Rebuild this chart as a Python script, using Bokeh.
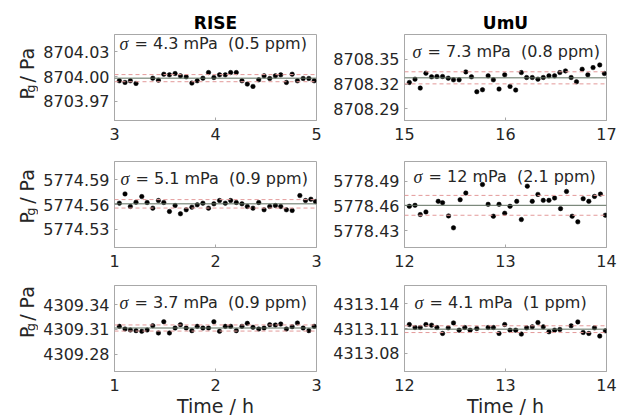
import math
from bokeh.plotting import figure
from bokeh.models import Span, Label, FixedTicker, PrintfTickFormatter, Range1d
from bokeh.layouts import column, row
from bokeh.core.properties import value
from bokeh.embed import file_html
from bokeh.resources import INLINE

# ---------------- data ----------------
rise1_t = [3.048, 3.104, 3.157, 3.213, 3.379, 3.435, 3.488, 3.544, 3.600, 3.653, 3.710, 3.766, 3.819, 3.875,
           3.931, 3.984, 4.040, 4.097, 4.150, 4.206, 4.262, 4.315, 4.371, 4.428, 4.481, 4.537, 4.593, 4.646,
           4.702, 4.759, 4.811, 4.868, 4.924, 4.977]
rise1_p = [8703.9948, 8703.9928, 8703.9948, 8703.9916, 8703.9980, 8703.9956, 8704.0028, 8704.0020, 8704.0036,
           8704.0008, 8703.9996, 8703.9920, 8703.9948, 8703.9980, 8704.0048, 8703.9988, 8704.0020, 8704.0020,
           8704.0048, 8704.0048, 8703.9948, 8703.9908, 8703.9880, 8703.9960, 8704.0008, 8703.9976, 8704.0008,
           8704.0020, 8703.9928, 8704.0028, 8703.9948, 8703.9976, 8703.9976, 8703.9948]

umu1_t = [15.048, 15.104, 15.156, 15.212, 15.268, 15.321, 15.377, 15.433, 15.485, 15.541, 15.607, 15.663,
          15.716, 15.772, 15.828, 15.880, 15.936, 15.992, 16.045, 16.101, 16.157, 16.209, 16.265, 16.321,
          16.374, 16.430, 16.486, 16.538, 16.594, 16.650, 16.703, 16.759, 16.815, 16.867, 16.933, 16.979]
umu1_p = [8708.3220, 8708.3260, 8708.3152, 8708.3332, 8708.3288, 8708.3292, 8708.3292, 8708.3272, 8708.3252,
          8708.3252, 8708.3348, 8708.3288, 8708.3108, 8708.3132, 8708.3300, 8708.3252, 8708.3140, 8708.3312,
          8708.3172, 8708.3128, 8708.3340, 8708.3280, 8708.3280, 8708.3260, 8708.3280, 8708.3300, 8708.3300,
          8708.3340, 8708.3360, 8708.3280, 8708.3228, 8708.3380, 8708.3312, 8708.3400, 8708.3432, 8708.3328]

rise2_t = [1.048, 1.104, 1.157, 1.213, 1.270, 1.323, 1.379, 1.435, 1.488, 1.544, 1.600, 1.653, 1.710, 1.766,
           1.819, 1.875, 1.931, 1.984, 2.040, 2.097, 2.150, 2.206, 2.262, 2.315, 2.371, 2.428, 2.481, 2.537,
           2.593, 2.646, 2.702, 2.759, 2.835, 2.891, 2.944, 2.990]
rise2_p = [5774.5616, 5774.5728, 5774.5576, 5774.5628, 5774.5696, 5774.5624, 5774.5556, 5774.5648, 5774.5624,
           5774.5516, 5774.5588, 5774.5488, 5774.5536, 5774.5568, 5774.5596, 5774.5616, 5774.5556, 5774.5608,
           5774.5648, 5774.5616, 5774.5648, 5774.5624, 5774.5608, 5774.5576, 5774.5556, 5774.5624, 5774.5536,
           5774.5576, 5774.5588, 5774.5576, 5774.5536, 5774.5528, 5774.5708, 5774.5648, 5774.5664, 5774.5636]

umu2_t = [12.048, 12.104, 12.156, 12.212, 12.334, 12.377, 12.436, 12.485, 12.551, 12.607, 12.772, 12.828,
          12.880, 12.936, 12.992, 13.045, 13.111, 13.157, 13.216, 13.265, 13.321, 13.374, 13.430, 13.486,
          13.545, 13.604, 13.660, 13.716, 13.769, 13.825, 13.881, 13.940, 13.989]
umu2_p = [5778.4596, 5778.4608, 5778.4496, 5778.4528, 5778.4656, 5778.4640, 5778.4480, 5778.4336, 5778.4676,
          5778.4756, 5778.4860, 5778.4620, 5778.4476, 5778.4620, 5778.4512, 5778.4596, 5778.4656, 5778.4436,
          5778.4840, 5778.4656, 5778.4740, 5778.4668, 5778.4668, 5778.4696, 5778.4568, 5778.4776, 5778.4476,
          5778.4408, 5778.4688, 5778.4656, 5778.4716, 5778.4744, 5778.4488]

rise3_t = [1.048, 1.104, 1.157, 1.213, 1.270, 1.323, 1.379, 1.435, 1.488, 1.544, 1.600, 1.653, 1.710, 1.766,
           1.819, 1.875, 1.931, 1.984, 2.040, 2.097, 2.150, 2.206, 2.262, 2.315, 2.371, 2.428, 2.481, 2.537,
           2.593, 2.646, 2.702, 2.759, 2.811, 2.868, 2.924, 2.977]
rise3_p = [4309.3136, 4309.3104, 4309.3092, 4309.3084, 4309.3076, 4309.3092, 4309.3144, 4309.3056, 4309.3192,
           4309.3056, 4309.3116, 4309.3156, 4309.3116, 4309.3084, 4309.3136, 4309.3116, 4309.3116, 4309.3192,
           4309.3076, 4309.3136, 4309.3136, 4309.3084, 4309.3136, 4309.3172, 4309.3124, 4309.3104, 4309.3116,
           4309.3156, 4309.3152, 4309.3164, 4309.3104, 4309.3132, 4309.3176, 4309.3116, 4309.3084, 4309.3136]

umu3_t = [12.048, 12.104, 12.156, 12.212, 12.268, 12.321, 12.377, 12.433, 12.485, 12.541, 12.597, 12.650,
          12.716, 12.828, 12.880, 12.936, 12.992, 13.045, 13.101, 13.157, 13.209, 13.265, 13.321, 13.374,
          13.430, 13.486, 13.538, 13.650, 13.716, 13.769, 13.825, 13.881, 13.933, 13.989]
umu3_p = [4313.1148, 4313.1112, 4313.1112, 4313.1148, 4313.1140, 4313.1112, 4313.1040, 4313.1108, 4313.1168,
          4313.1080, 4313.1112, 4313.1080, 4313.1100, 4313.1112, 4313.1112, 4313.1040, 4313.1148, 4313.1080,
          4313.1080, 4313.1032, 4313.1108, 4313.1120, 4313.1172, 4313.1120, 4313.1060, 4313.1080, 4313.1088,
          4313.1132, 4313.1180, 4313.1052, 4313.1040, 4313.1108, 4313.1008, 4313.1072]

means = [8703.9980, 8708.3276, 5774.5608, 5778.4608, 4309.3116, 4313.1092]
sigmas_mpa = [4.3, 7.3, 5.1, 12, 3.7, 4.1]
ppm_labels = ["0.5", "0.8", "0.9", "2.1", "0.9", "1"]
y_ranges = [(8703.9468, 8704.0508), (8708.276, 8708.380), (5774.508, 5774.612),
            (5778.4098, 5778.5138), (4309.259, 4309.363), (4313.058, 4313.162)]
y_ticks = [[8703.97, 8704.00, 8704.03], [8708.29, 8708.32, 8708.35], [5774.53, 5774.56, 5774.59],
           [5778.43, 5778.46, 5778.49], [4309.28, 4309.31, 4309.34], [4313.08, 4313.11, 4313.14]]
x_ranges = [(3, 5), (15, 17), (1, 3), (12, 14), (1, 3), (12, 14)]
x_ticks = [[3, 4, 5], [15, 16, 17], [1, 2, 3], [12, 13, 14], [1, 2, 3], [12, 13, 14]]
col_titles = ["RISE", "UmU"]
x_label = "Time / h"
y_label_parts = ["P", "g", "/ Pa"]

series_t = [rise1_t, umu1_t, rise2_t, umu2_t, rise3_t, umu3_t]
series_p = [rise1_p, umu1_p, rise2_p, umu2_p, rise3_p, umu3_p]

# ---------------- style ----------------
FONT = "DejaVu Sans"
TXT = "#262626"
BOX = "#a8a8a8"
ROW_H = [147, 126, 146]
ROW_TOP = [34, 14, 12]
FRAME_H = 86
LAB_W = 38
COL_W = [290, 289]
COL_LEFT = [76, 76]
FRAME_W = 202
ann_off = [9, 17, 17, 15, 17, 17]
ann_x = [5, 8, 6, 9, 5, 10]


def make_label_fig(r):
    h = ROW_H[r]
    f = figure(width=LAB_W, height=h, output_backend="svg", toolbar_location=None,
               x_range=Range1d(0, LAB_W), y_range=Range1d(0, h),
               min_border=0, min_border_left=0, min_border_right=0,
               min_border_top=0, min_border_bottom=0)
    f.axis.visible = False
    f.grid.visible = False
    f.outline_line_color = None
    yc = h - (ROW_TOP[r] + FRAME_H / 2.0) - 2
    start = yc - 32
    f.text(x=[26], y=[start], text=[y_label_parts[0]], angle=math.pi / 2,
           text_font=value(FONT), text_font_size=value("19px"), text_color=TXT,
           text_baseline="alphabetic", text_align="left")
    f.text(x=[30], y=[start + 11.5], text=[y_label_parts[1]], angle=math.pi / 2,
           text_font=value(FONT), text_font_size=value("13px"), text_color=TXT,
           text_baseline="alphabetic", text_align="left")
    f.text(x=[26], y=[start + 29], text=[y_label_parts[2]], angle=math.pi / 2,
           text_font=value(FONT), text_font_size=value("19px"), text_color=TXT,
           text_baseline="alphabetic", text_align="left")
    return f


def make_panel(i):
    r, c = divmod(i, 2)
    w, h = COL_W[c], ROW_H[r]
    p = figure(width=w, height=h, output_backend="svg", toolbar_location=None,
               x_range=Range1d(*x_ranges[i]), y_range=Range1d(*y_ranges[i]),
               min_border_left=COL_LEFT[c], min_border_right=w - COL_LEFT[c] - FRAME_W,
               min_border_top=ROW_TOP[r], min_border_bottom=h - ROW_TOP[r] - FRAME_H,
               background_fill_color="white", border_fill_color="white")
    p.grid.visible = False
    p.outline_line_color = BOX
    p.outline_line_width = 1
    for ax in (p.xaxis[0], p.yaxis[0]):
        ax.axis_line_color = BOX
        ax.major_tick_line_color = BOX
        ax.major_tick_in = 3
        ax.major_tick_out = 0
        ax.minor_tick_line_color = None
        ax.major_label_text_font = FONT
        ax.major_label_text_font_size = "16px"
        ax.major_label_text_color = TXT
    p.xaxis.ticker = FixedTicker(ticks=x_ticks[i])
    p.yaxis.ticker = FixedTicker(ticks=y_ticks[i])
    p.yaxis.formatter = PrintfTickFormatter(format="%.2f")
    p.xaxis.major_label_standoff = 7
    p.yaxis.major_label_standoff = 5
    if r == 0:
        p.title.text = col_titles[c]
        p.title.align = "center"
        p.title.text_font = FONT
        p.title.text_font_size = "17px"
        p.title.text_font_style = "bold"
        p.title.text_color = "black"
        p.title.standoff = 3
    if r == 2:
        p.xaxis.axis_label = x_label
        p.xaxis.axis_label_text_font = FONT
        p.xaxis.axis_label_text_font_size = "19px"
        p.xaxis.axis_label_text_font_style = "normal"
        p.xaxis.axis_label_text_color = TXT
        p.xaxis.axis_label_standoff = 1

    m = means[i]
    s = sigmas_mpa[i] / 1000.0
    p.add_layout(Span(location=m, dimension="width", line_color="#5f6f5f", line_width=1))
    for v in (m - s, m + s):
        p.add_layout(Span(location=v, dimension="width", line_color="#e39a9a",
                          line_width=1, line_dash="4 3"))
    p.scatter(series_t[i], series_p[i], size=4.5, fill_color="black", line_color="black",
              line_width=0.5, marker="circle")

    x0, x1 = x_ranges[i]
    y0, y1 = y_ranges[i]
    p.add_layout(Label(x=x0, y=y1, x_offset=ann_x[i], y_offset=-ann_off[i], text="σ",
                       text_font="Liberation Serif", text_font_size="18px", text_font_style="italic",
                       text_color=TXT, text_baseline="middle", text_align="left"))
    p.add_layout(Label(x=x0, y=y1, x_offset=ann_x[i] + 15, y_offset=-ann_off[i],
                       text="= %s mPa\u00a0 (%s ppm)" % (("%g" % sigmas_mpa[i]), ppm_labels[i]),
                       text_font=FONT, text_font_size="16px",
                       text_color=TXT, text_baseline="middle", text_align="left"))
    return p


panels = [make_panel(i) for i in range(6)]
labels = [make_label_fig(r) for r in range(3)]
layout = column(row(labels[0], panels[0], panels[1]),
                row(labels[1], panels[2], panels[3]),
                row(labels[2], panels[4], panels[5]))

open("out.html", "w").write(file_html(layout, INLINE))
